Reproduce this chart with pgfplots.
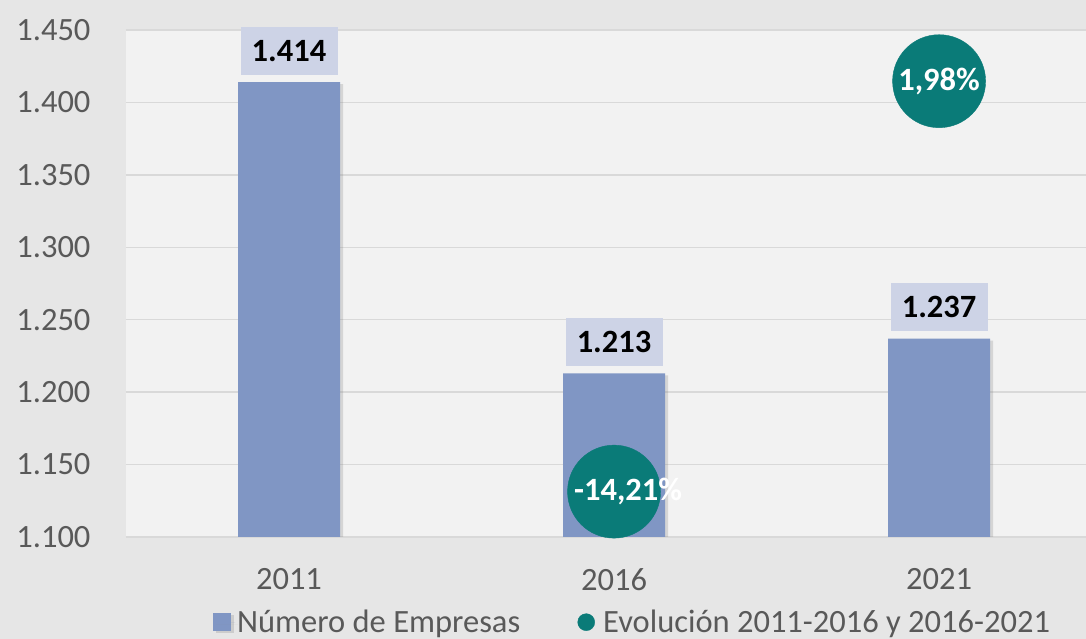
\documentclass[border=0pt]{standalone}
\usepackage{pgfplots}
\pgfplotsset{compat=1.18}
\usepackage{fontspec}
\setmainfont{Carlito}
\usetikzlibrary{shadows}
\definecolor{outerbg}{HTML}{E6E6E6}
\definecolor{plotbg}{HTML}{F2F2F2}
\definecolor{gridc}{HTML}{D9D9D9}
\definecolor{barc}{HTML}{8096C4}
\definecolor{boxc}{HTML}{CDD3E6}
\definecolor{tealc}{HTML}{0A7B78}
\definecolor{txt}{HTML}{595959}
\newcommand{\bigfont}{\fontsize{32.5}{39}\selectfont}
\begin{document}
\begin{tikzpicture}
\fill[outerbg] (-126pt,-102pt) rectangle (960pt,537pt);
\useasboundingbox (-126pt,-102pt) rectangle (960pt,537pt);
\begin{axis}[
  at={(0pt,0pt)}, anchor=south west,
  scale only axis, width=960pt, height=507pt,
  xmin=-0.5015, xmax=2.452,
  ymin=1100, ymax=1450, ytick distance=50,
  xtick={0,1,2}, xticklabels={2011,2016,2021},
  axis background/.style={fill=plotbg},
  axis line style={draw=none},
  major tick length=0pt,
  ymajorgrids, grid style={gridc, line width=1.5pt},
  tick label style={font=\bigfont, text=txt},
  xticklabel style={yshift=-28pt},
  yticklabel style={xshift=-32pt},
  /pgf/number format/1000 sep={.},
  /pgf/number format/assume math mode=true,
  legend columns=2,
  legend style={draw=none, fill=none, inner sep=0pt, font=\bigfont, text=txt,
    at={(rel axis cs:0.0906,-0.168)}, anchor=west,
    /tikz/every even column/.append style={column sep=55pt}},
]
\addplot[ybar, bar width=102pt, fill=barc, draw=none,
  drop shadow={shadow xshift=3pt, shadow yshift=-2pt, opacity=0.25},
  legend image code/.code={\fill[barc] (0pt,-9pt) rectangle (18pt,9pt); \path[draw=none] (0pt,0pt) -- (22pt,0pt);},
  nodes near coords,
  every node near coord/.append style={anchor=south, yshift=7pt, fill=boxc,
    minimum width=97pt, minimum height=48pt, inner sep=0pt,
    text=black, font=\bfseries\bigfont}]
  coordinates {(0,1414) (1,1213) (2,1237)};
\addlegendentry{Número de Empresas}
\addlegendimage{legend image code/.code={\fill[tealc] (9pt,0pt) circle (8.5pt); \path[draw=none] (0pt,0pt) -- (24pt,0pt);}}
\addlegendentry{Evolución 2011-2016 y 2016-2021}
\end{axis}
\begin{axis}[
  at={(0pt,0pt)}, anchor=south west,
  scale only axis, width=960pt, height=507pt,
  xmin=-0.5015, xmax=2.452,
  ymin=-16, ymax=4,
  hide axis, clip=false]
\addplot[only marks, mark=*, mark size=46.5pt, mark options={fill=tealc, draw=tealc},
  point meta=explicit symbolic, nodes near coords,
  every node near coord/.append style={anchor=center, text=white, font=\bfseries\bigfont}]
  coordinates {(1,-14.21) [\hspace*{28pt}-14,21\%] (2,1.98) [1,98\%]};
\end{axis}
\end{tikzpicture}
\end{document}
